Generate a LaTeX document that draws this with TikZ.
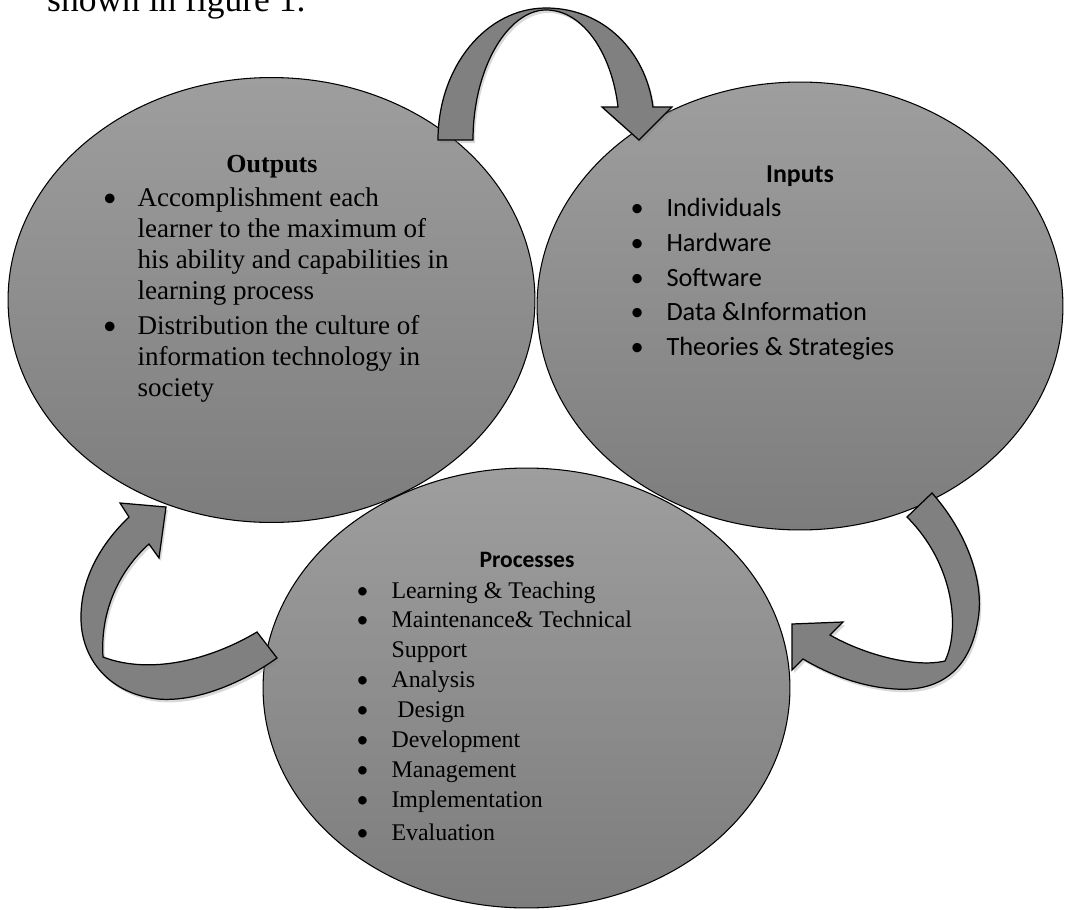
\documentclass[tikz,border=0pt]{standalone}
\usepackage{fontspec}
\setmainfont{Liberation Serif}
\newfontfamily\calibri{Carlito}
\usetikzlibrary{shapes.geometric,shadows}
\definecolor{ovaltop}{gray}{0.62}
\definecolor{ovalbottom}{gray}{0.49}
\definecolor{bandgray}{gray}{0.5}
\newcommand{\itemdot}{{\calibri\textbullet}}
\begin{document}
\begin{tikzpicture} [x = 0.02cm, y = -0.02cm, line width = 0.6pt,
        phase/.style = {draw, ellipse, top color = ovaltop, bottom color = ovalbottom, minimum width = 10.54cm, minimum height = 8.9cm, inner sep = 0pt},
        band/.style = {draw, fill = bandgray, line width = 0.7pt, drop shadow = {shadow xshift = 0.04cm, shadow yshift = -0.06cm, opacity = 0.3}},
        items/.style = {anchor = base west, inner sep = 0pt},
        heading/.style = {anchor = base, inner sep = 0pt}]
        \useasboundingbox (0,0) rectangle (1066,910);
        \clip (0,0) rectangle (1066,910);
        
        \node [items, font = \fontsize{20.2}{24}\selectfont] (caption) at (46.7,11.7) {shown in figure 1.};
        
        \node [phase] (outputs) at (271.5,300) {};
        \node [phase, minimum width = 10.52cm, minimum height = 8.96cm] (inputs) at (800,306) {};
        \node [phase, minimum height = 8.8cm] (processes) at (526.5,688) {};
        
        \draw [band] (438,140) .. controls (438,67) and (486,8) .. (546,8) .. controls (604,8) and (646,52) .. (653,107) -- (672,107) -- (639,140) -- (602,107) -- (618,107) .. controls (612,55) and (584,10) .. (546,10) .. controls (508,10) and (473,68) .. (473,140) -- cycle;
        \draw [band] (932,493) .. controls (965,530) and (985,580) .. (978,620) .. controls (970,670) and (940,692) .. (895,689) .. controls (862,687) and (830,675) .. (803,659) -- (792,670) -- (792,624) -- (843,622) -- (830,635) .. controls (865,655) and (915,668) .. (945,661) .. controls (960,630) and (955,565) .. (907,517) -- cycle;
        \draw [band] (277,658) .. controls (235,688) and (190,702) .. (158,699) .. controls (110,694) and (82,660) .. (81,620) .. controls (80,575) and (105,540) .. (129,517) -- (120,503) -- (166,507) -- (159,558) -- (149,544) .. controls (120,570) and (100,610) .. (103,657) .. controls (150,675) and (210,660) .. (257,632) -- cycle;
        
        \node [heading, font = \bfseries\fontsize{14.8}{17}\selectfont] (outtitle) at (272,172) {Outputs};
        \node [items, font = \fontsize{15.4}{17.8}\selectfont] (outlist) at (102.6,206) {\begin{tabular}[t]{@{}p{0.69cm}@{}l@{}}
            \itemdot & Accomplishment each\\
            & learner to the maximum of\\
            & his ability and capabilities in\\
            & learning process\\[0.06cm]
            \itemdot & Distribution the culture of\\
            & information technology in\\
            & society
        \end{tabular}};
        
        \node [heading, font = \calibri\bfseries\fontsize{14.7}{18}\selectfont] (intitle) at (800,182) {Inputs};
        \node [items, font = \calibri\fontsize{15}{19.7}\selectfont] (inlist) at (630,216.8) {\begin{tabular}[t]{@{}p{0.72cm}@{}l@{}}
            \itemdot & Individuals\\
            \itemdot & Hardware\\
            \itemdot & Software\\
            \itemdot & Data \&Information\\
            \itemdot & Theories \& Strategies
        \end{tabular}};
        
        \node [heading, font = \calibri\bfseries\fontsize{13.4}{16}\selectfont] (proctitle) at (527,567) {Processes};
        \node [items, font = \fontsize{13.6}{17}\selectfont] (proclist) at (356,598) {\begin{tabular}[t]{@{}p{0.70cm}@{}l@{}}
            \itemdot & Learning \& Teaching\\
            \itemdot & Maintenance\& Technical\\
            & Support\\
            \itemdot & Analysis\\
            \itemdot & \ Design\\
            \itemdot & Development\\
            \itemdot & Management\\
            \itemdot & Implementation\\[0.07cm]
            \itemdot & Evaluation
        \end{tabular}};
        
    \end{tikzpicture}
\end{document}
